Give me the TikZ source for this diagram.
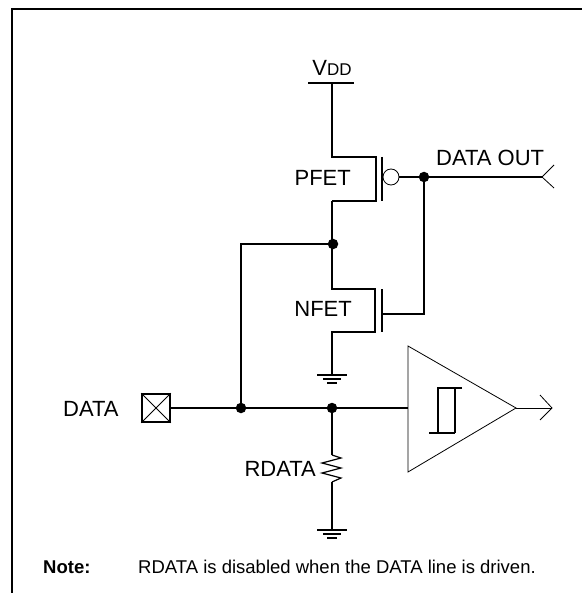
\documentclass[tikz,border=0pt]{standalone}
\usepackage{tikz}
\usepackage{fontspec}
\setmainfont{Liberation Sans}
\tikzset{
  wire/.style={line width=1.7pt},
  thinwire/.style={line width=0.8pt},
  dot/.style={circle,fill=black,inner sep=0pt,minimum size=10.5pt},
  label/.style={inner sep=0pt,font=\fontsize{22}{24}\selectfont},
  notetext/.style={inner sep=0pt,anchor=west,font=\fontsize{18.5}{20}\selectfont}
}

\begin{document}
\begin{tikzpicture}[x=1pt,y=-1pt]
  \useasboundingbox (0,0) rectangle (582,593);
  % Frame has only its top and left sides
  \coordinate (framebl) at (12,593);
  \coordinate (frametl) at (12,9);
  \coordinate (frametr) at (582,9);
  \draw[line width=2pt] (framebl) -- (frametl) -- (frametr);

  % Supply and PFET
  \coordinate (vdd) at (332,83);
  \coordinate (pd) at (376,157);
  \coordinate (ps) at (376,201);
  \coordinate (pdl) at (332,157);
  \coordinate (psl) at (332,201);
  \coordinate (pgt) at (382,157);
  \coordinate (pgb) at (382,201);
  \draw[wire] ([xshift=-24pt]vdd) -- ([xshift=22pt]vdd);
  \draw[wire] (vdd) -- (pdl) -- (pd) -- (ps) -- (psl);
  \draw[wire] (pgt) -- (pgb);
  \node (bubble) [draw,circle,thinwire,inner sep=0pt,minimum size=16pt] at (391,177) {};

  % Output node and its pin
  \node (outdot) [dot] at (424,177) {};
  \coordinate (outpin) at (542,177);
  \coordinate (outup) at (554,165);
  \coordinate (outdn) at (554,188);
  \draw[wire] (bubble) -- (outdot) -- (outpin);
  \draw[thinwire] (outup) -- (outpin) -- (outdn);

  % NFET, with the midpoint tied to the DATA line
  \node (middot) [dot] at (333,244) {};
  \coordinate (mid) at (332,244);
  \coordinate (nd) at (375,289);
  \coordinate (ns) at (375,332);
  \coordinate (ndl) at (332,289);
  \coordinate (nsl) at (332,332);
  \coordinate (ngt) at (382,289);
  \coordinate (ngb) at (382,332);
  \coordinate (ngate) at (382,314);
  \coordinate (ngater) at (424,314);
  \coordinate (ngnd) at (332,375);
  \draw[wire] (psl) -- (mid) -- (ndl) -- (nd) -- (ns) -- (nsl) -- (ngnd);
  \draw[wire] (ngt) -- (ngb);
  \draw[wire] (ngate) -- (ngater) -- (outdot);

  % DATA line
  \node (pad) [draw,wire,inner sep=0pt,minimum size=28pt] at (156,408) {};
  \draw[thinwire] (pad.north west) -- (pad.south east);
  \draw[thinwire] (pad.north east) -- (pad.south west);
  \node (ldot) [dot] at (241,408) {};
  \node (rdot) [dot] at (332,408) {};
  \coordinate (bufin) at (408,408);
  \coordinate (ltop) at (241,244);
  \draw[wire] (pad) -- (ldot) -- (rdot) -- (bufin);
  \draw[wire] (ldot) -- (ltop) -- (mid);

  % Buffer with hysteresis mark
  \coordinate (buftop) at (408,346);
  \coordinate (bufbot) at (408,472);
  \coordinate (bufout) at (516,408);
  \coordinate (pintip) at (552,408);
  \draw[thinwire] (buftop) -- (bufout) -- (bufbot) -- cycle;
  \draw[thinwire] (bufout) -- (pintip);
  \draw[thinwire] (540,395) -- (pintip) -- (540,420);
  \draw[wire] (462,388) -- (438,388) -- (438,433);
  \draw[wire] (455,388) -- (455,433);
  \draw[wire] (429,433) -- (455,433);

  % RDATA
  \coordinate (rtop) at (332,455);
  \coordinate (rbot) at (332,482);
  \coordinate (rgnd) at (332,530);
  \draw[wire] (rdot) -- (rtop);
  \draw[line width=1.2pt] (rtop) -- (341,458) -- (322,463) -- (341,468) -- (322,473) -- (341,478) -- (rbot);
  \draw[wire] (rbot) -- (rgnd);

  % Ground symbols
  \foreach \gnd in {ngnd,rgnd} {
    \draw[wire] ([xshift=-15pt]\gnd) -- ([xshift=15pt]\gnd);
    \draw[wire] ([xshift=-9pt,yshift=-4pt]\gnd) -- ([xshift=9pt,yshift=-4pt]\gnd);
    \draw[wire] ([xshift=-5pt,yshift=-8pt]\gnd) -- ([xshift=5pt,yshift=-8pt]\gnd);
  }

  % Labels
  \node (vddlabel) [label] at (332,68) {V{\fontsize{17}{18}\selectfont DD}};
  \node (pfettext) [label,anchor=east] at (351,178) {PFET};
  \node (nfettext) [label,anchor=east] at (352,309) {NFET};
  \node (outlabel) [label,anchor=west] at (436,158) {DATA OUT};
  \node (datalabel) [label,anchor=west] at (63,409) {DATA};
  \node (rlabel) [label,anchor=east] at (316,469) {RDATA};
  \node (notelabel) [notetext] at (43,567) {\bfseries Note:};
  \node (notebody) [notetext] at (138,567) {RDATA is disabled when the DATA line is driven.};
\end{tikzpicture}
\end{document}
